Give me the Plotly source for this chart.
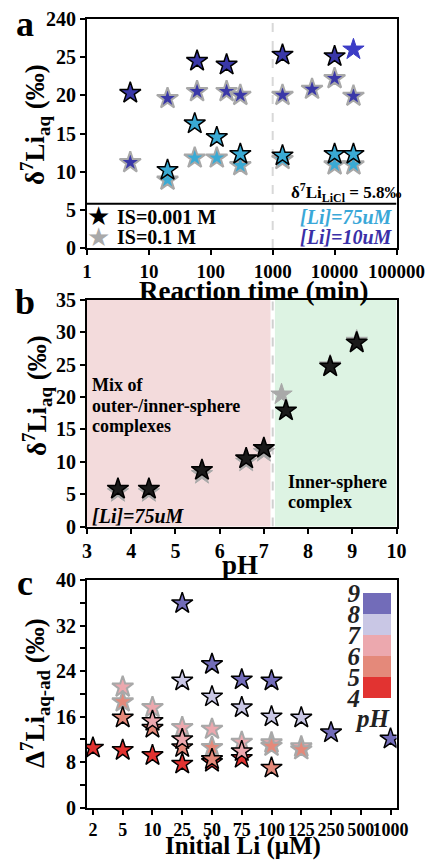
import plotly.graph_objects as go

W, H = 428, 860
def px(x):
    return x / W
def py(y):
    return 1 - y / H

SERIF = "Liberation Serif"

# ---------------- Panel a data ----------------
time_low_10 = [5, 60, 180, 1440, 10000]
d7li_low_10 = [20.3, 24.5, 24.0, 25.3, 25.1]
time_low_10_plain = [20160]
d7li_low_10_plain = [26.0]
time_high_10 = [5, 20, 60, 180, 300, 1440, 4320, 10000, 20160]
d7li_high_10 = [11.2, 19.6, 20.5, 20.5, 20.0, 20.0, 20.8, 22.2, 19.9]
time_low_75 = [20, 55, 125, 300, 1440, 10000, 20160]
d7li_low_75 = [10.2, 16.3, 14.5, 12.3, 12.1, 12.3, 12.3]
time_high_75 = [20, 55, 125, 300, 1440, 10000, 20160]
d7li_high_75 = [8.9, 11.8, 11.8, 10.8, 11.6, 10.9, 10.9]
licl_value = 5.8
a_yticks = [0, 5, 10, 15, 20, 25, 30]
a_yticktext = ["0", "5", "10", "15", "20", "25", "240"]
a_xticks = [1, 10, 100, 1000, 10000, 100000]

# ---------------- Panel b data ----------------
ph_low = [3.7, 4.4, 5.6, 6.6, 7.0, 7.5, 8.5, 9.1]
d7li_ph_low = [5.8, 5.8, 8.7, 10.5, 12.1, 17.9, 24.7, 28.4]
ph_high = [3.7, 4.4, 5.6, 6.6, 7.0, 7.4, 8.5, 9.1]
d7li_ph_high = [5.3, 5.3, 8.1, 10.0, 11.5, 20.4, 24.9, 28.7]
ph_boundary = 7.2

# ---------------- Panel c data ----------------
li_cats = ["2", "5", "10", "25", "50", "75", "100", "125", "250", "500", "1000"]
c_pink_gray_x = ["5", "10", "25", "50", "75", "100", "125"]
c_pink_gray_y = [21.2, 17.6, 14.1, 13.8, 11.5, 11.4, 10.7]
c_sal_gray_x = ["5", "50", "100", "125"]
c_sal_gray_y = [18.6, 10.6, 10.8, 10.2]
c_red_x = ["2", "5", "10", "25", "50", "75"]
c_red_y = [10.5, 10.1, 9.2, 7.7, 8.0, 8.7]
c_sal_x = ["5", "10", "25", "50", "100"]
c_sal_y = [15.8, 14.0, 10.6, 8.5, 7.0]
c_pink_x = ["10", "25", "75"]
c_pink_y = [15.2, 12.0, 9.9]
c_lav_x = ["25", "50", "75", "100", "125"]
c_lav_y = [22.3, 19.5, 17.6, 16.0, 15.8]
c_pur_x = ["25", "50", "75", "100", "250", "1000"]
c_pur_y = [35.9, 25.2, 22.5, 22.3, 13.2, 12.1]
ph_bins = [4, 5, 6, 7, 8, 9]

C_RED, C_SAL, C_PINK, C_LAV, C_PUR = "#E23331", "#E4897A", "#ECA8AE", "#C9C7E5", "#726CB9"
bin_colors = [C_RED, C_SAL, C_PINK, C_LAV, C_PUR]
BLUE = "#3A38A8"
BLUE2 = "#3C3CC6"
CYAN = "#3AAAD4"
GRAY_EDGE = "#A8A8A8"

fig = go.Figure()

def stars(x, y, fill, edge, ax, ew=1.5):
    fig.add_trace(go.Scatter(
        x=x, y=y, mode="markers", xaxis=ax[0], yaxis=ax[1], showlegend=False,
        hoverinfo="skip",
        marker=dict(symbol="star", size=16, color=fill, line=dict(color=edge, width=ew))))

A = ("x", "y"); B = ("x2", "y2"); C = ("x3", "y3")

# panel a reference lines
fig.add_trace(go.Scatter(x=[1000, 1000], y=[0, 30], mode="lines", xaxis="x", yaxis="y",
                         line=dict(color="#D8D8D8", width=2, dash="dash"), showlegend=False, hoverinfo="skip"))
fig.add_trace(go.Scatter(x=[1, 100000], y=[licl_value, licl_value], mode="lines", xaxis="x", yaxis="y",
                         line=dict(color="black", width=2), showlegend=False, hoverinfo="skip"))
stars(time_high_10, d7li_high_10, BLUE, GRAY_EDGE, A, 2)
stars(time_high_75, d7li_high_75, CYAN, GRAY_EDGE, A, 2)
stars(time_low_10, d7li_low_10, BLUE, "black", A)
stars(time_low_10_plain, d7li_low_10_plain, BLUE2, BLUE2, A, 1)
stars(time_low_75, d7li_low_75, CYAN, "black", A)

# panel b
fig.add_trace(go.Scatter(x=[ph_boundary, ph_boundary], y=[0, 35], mode="lines", xaxis="x2", yaxis="y2",
                         line=dict(color="#D0D0D0", width=2, dash="dash"), showlegend=False, hoverinfo="skip"))
stars(ph_high, d7li_ph_high, "#A9A9A9", "#A9A9A9", B, 1)
stars(ph_low, d7li_ph_low, "#1A1A1A", "black", B)

# panel c
def cidx(lst):
    return [li_cats.index(v) for v in lst]
stars(cidx(c_pink_gray_x), c_pink_gray_y, C_PINK, GRAY_EDGE, C, 2)
stars(cidx(c_sal_gray_x), c_sal_gray_y, C_SAL, GRAY_EDGE, C, 2)
stars(cidx(c_red_x), c_red_y, C_RED, "black", C)
stars(cidx(c_sal_x), c_sal_y, C_SAL, "black", C)
stars(cidx(c_pink_x), c_pink_y, C_PINK, "black", C)
stars(cidx(c_lav_x), c_lav_y, C_LAV, "black", C)
stars(cidx(c_pur_x), c_pur_y, C_PUR, "black", C)

# pH colour key
mids = [(ph_bins[i] + ph_bins[i + 1]) / 2 for i in range(len(ph_bins) - 1)]
n = len(bin_colors)
fig.add_trace(go.Heatmap(
    z=[[i] for i in range(n)], x=[0], y=mids, xaxis="x4", yaxis="y4",
    colorscale=[[i / (n - 1), c] for i, c in enumerate(bin_colors)],
    zmin=0, zmax=n - 1, showscale=False, hoverinfo="skip"))

tickfont = dict(family=SERIF, size=20, color="black", weight="bold")
axis_style = dict(showline=True, linecolor="black", linewidth=2, mirror=True,
                  ticks="outside", ticklen=5, tickwidth=2, tickcolor="black", tickangle=0,
                  showgrid=False, zeroline=False, automargin=False)

xd = [px(87), px(396.5)]
layout = dict(
    width=W, height=H, margin=dict(l=0, r=0, t=0, b=0, autoexpand=False),
    paper_bgcolor="white", plot_bgcolor="white", showlegend=False,
    xaxis=dict(domain=xd, anchor="y", type="log", range=[0, 5], tickfont=dict(tickfont, size=19),
               tickvals=a_xticks, ticktext=[str(v) for v in a_xticks], **axis_style),
    yaxis=dict(domain=[py(248), py(19)], anchor="x", range=[0, 30], tickfont=tickfont,
               tickvals=a_yticks, ticktext=a_yticktext, **axis_style),
    xaxis2=dict(domain=xd, anchor="y2", range=[3, 10], dtick=1, tickfont=tickfont, **axis_style),
    yaxis2=dict(domain=[py(526.5), py(300)], anchor="x2", range=[0, 35], dtick=5,
                tickfont=tickfont, **axis_style),
    xaxis3=dict(domain=xd, anchor="y3", range=[-0.2, 10.2],
                tickfont=dict(tickfont, size=18),
                tickvals=list(range(len(li_cats))), ticktext=li_cats, **axis_style),
    yaxis3=dict(domain=[py(807.7), py(580)], anchor="x3", range=[0, 40], tickfont=tickfont,
                tickvals=[0, 8, 16, 24, 32, 40],
                minor=dict(tickmode="linear", tick0=0, dtick=4, ticks="outside", ticklen=5,
                           tickwidth=2, tickcolor="black", showgrid=False),
                **axis_style),
    xaxis4=dict(domain=[px(363), px(391)], anchor="y4", range=[-0.5, 0.5], visible=False,
                automargin=False),
    yaxis4=dict(domain=[py(698), py(593)], anchor="x4", range=[ph_bins[0], ph_bins[-1]],
                tickvals=ph_bins, ticks="", showline=False, showgrid=False, zeroline=False,
                side="left", ticklabelstandoff=2, automargin=False,
                tickfont=dict(family=SERIF, size=25, color="#222", weight="bold", style="italic")),
)
fig.update_layout(**layout)

# panel b background regions
fig.add_shape(type="rect", xref="x2", yref="y2 domain", x0=3, x1=ph_boundary - 0.05, y0=0, y1=1,
              fillcolor="#F3DBDC", line_width=0, layer="below")
fig.add_shape(type="rect", xref="x2", yref="y2 domain", x0=ph_boundary + 0.05, x1=10, y0=0, y1=1,
              fillcolor="#DDF3E3", line_width=0, layer="below")

def note(text, x, y, size, xanchor="center", color="black", italic=False, angle=0, family=SERIF, bold=True):
    fig.add_annotation(text=text, x=px(x), y=py(y), xref="paper", yref="paper",
                       xanchor=xanchor, yanchor="middle", showarrow=False, textangle=angle,
                       font=dict(family=family, size=size, color=color,
                                 weight="bold" if bold else "normal",
                                 style="italic" if italic else "normal"))

# panel labels
note("a", 25, 24, 36)
note("b", 25, 302, 36)
note("c", 25, 583, 36)

# axis titles
note("δ<sup>7</sup>Li<sub>aq</sub> (‰)", 35, 125, 27, angle=-90)
note("Reaction time (min)", 253, 291, 27)
note("δ<sup>7</sup>Li<sub>aq</sub> (‰)", 37, 396, 27, angle=-90)
note("pH", 240, 565, 27)
note("Δ<sup>7</sup>Li<sub>aq-ad</sub> (‰)", 35, 693, 27, angle=-90)
note("Initial Li (μM)", 243, 846, 25)

# panel a texts
note("δ<sup>7</sup>Li<sub>LiCl</sub> = 5.8‰", 289, 192, 17, xanchor="left")
note("★", 98, 216, 26, family="DejaVu Sans", bold=False)
note("★", 98, 237, 26, color="#A9A9A9", family="DejaVu Sans", bold=False)
note("IS=0.001 M", 115, 217, 20, xanchor="left")
note("IS=0.1 M", 115, 237, 20, xanchor="left")
note("[Li]=75uM", 395, 217, 20, xanchor="right", color="#3AA8D8", italic=True)
note("[Li]=10uM", 395, 237, 20, xanchor="right", color="#3A30A8", italic=True)

# panel b texts
note("Mix of", 90, 385, 18, xanchor="left")
note("outer-/inner-sphere", 90, 406, 18, xanchor="left")
note("complexes", 90, 426, 18, xanchor="left")
note("Inner-sphere", 286, 482, 18, xanchor="left")
note("complex", 286, 502, 18, xanchor="left")
note("[Li]=75uM", 90, 516, 20, xanchor="left", italic=True)

# panel c key label
note("pH", 373, 718, 25, italic=True, color="#222")

fig.write_html("out.html")
